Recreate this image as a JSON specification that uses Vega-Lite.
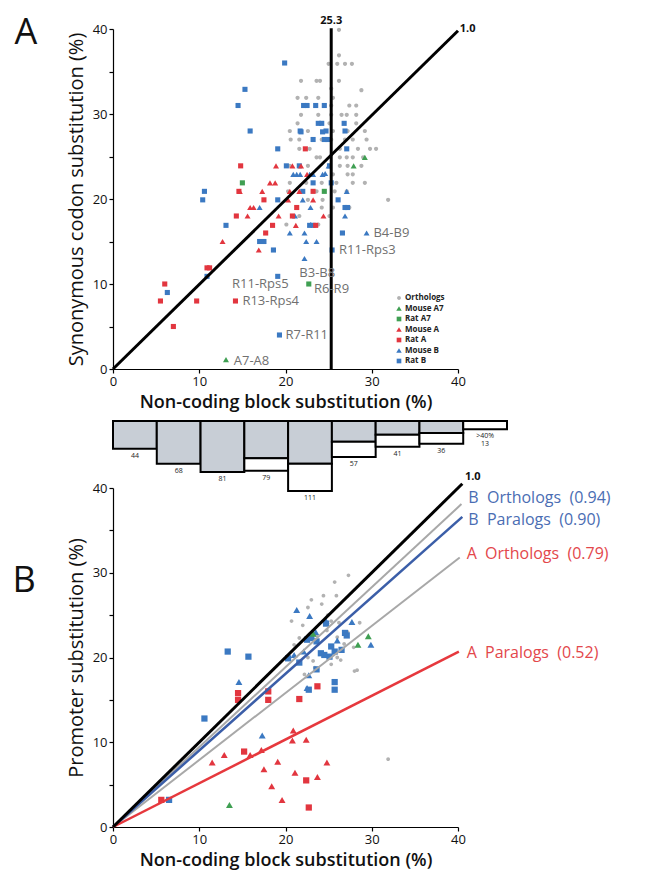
{
"$schema": "https://vega.github.io/schema/vega-lite/v6.json",
"padding": {"left": 12, "top": 15, "right": 0, "bottom": 2},
"background": "#ffffff",
"config": {"font": "Open Sans", "view": {"stroke": null},
  "axis": {"domainColor": "#000", "tickColor": "#000", "labelColor": "#111", "titleColor": "#111", "grid": false, "domainWidth": 1.2, "tickWidth": 1.2, "tickSize": 4, "labelFontSize": 13, "labelFlush": false, "labelPadding": 2}},
"datasets": {
 "a": [
  {"g":"Orthologs","x":26.2,"y":39.9},{"g":"Orthologs","x":26.2,"y":36.9},{"g":"Orthologs","x":25.0,"y":35.9},{"g":"Orthologs","x":26.0,"y":35.9},{"g":"Orthologs","x":26.9,"y":35.9},{"g":"Orthologs","x":27.7,"y":35.9},{"g":"Orthologs","x":21.8,"y":33.9},{"g":"Orthologs","x":23.6,"y":33.9},{"g":"Orthologs","x":24.0,"y":33.9},{"g":"Orthologs","x":26.2,"y":33.9},{"g":"Orthologs","x":28.8,"y":32.8},{"g":"Orthologs","x":21.4,"y":31.9},{"g":"Orthologs","x":22.4,"y":31.9},{"g":"Orthologs","x":23.8,"y":31.9},{"g":"Orthologs","x":25.5,"y":31.9},{"g":"Orthologs","x":27.4,"y":31.0},{"g":"Orthologs","x":28.2,"y":31.0},{"g":"Orthologs","x":25.3,"y":31.0},{"g":"Orthologs","x":21.8,"y":29.9},{"g":"Orthologs","x":23.8,"y":29.9},{"g":"Orthologs","x":26.5,"y":29.9},{"g":"Orthologs","x":27.1,"y":29.9},{"g":"Orthologs","x":28.2,"y":29.9},{"g":"Orthologs","x":25.3,"y":29.9},{"g":"Orthologs","x":21.4,"y":28.9},{"g":"Orthologs","x":25.1,"y":28.9},{"g":"Orthologs","x":28.2,"y":28.9},{"g":"Orthologs","x":20.5,"y":28.0},{"g":"Orthologs","x":22.6,"y":28.0},{"g":"Orthologs","x":25.5,"y":28.0},{"g":"Orthologs","x":27.2,"y":28.0},{"g":"Orthologs","x":29.2,"y":28.0},{"g":"Orthologs","x":20.6,"y":27.0},{"g":"Orthologs","x":21.6,"y":27.0},{"g":"Orthologs","x":24.2,"y":27.0},{"g":"Orthologs","x":26.9,"y":27.0},{"g":"Orthologs","x":27.8,"y":27.0},{"g":"Orthologs","x":29.4,"y":27.0},{"g":"Orthologs","x":21.6,"y":25.9},{"g":"Orthologs","x":22.8,"y":25.9},{"g":"Orthologs","x":26.3,"y":25.9},{"g":"Orthologs","x":28.4,"y":25.9},{"g":"Orthologs","x":29.8,"y":25.9},{"g":"Orthologs","x":30.5,"y":25.9},{"g":"Orthologs","x":23.6,"y":24.9},{"g":"Orthologs","x":24.0,"y":24.9},{"g":"Orthologs","x":27.1,"y":24.9},{"g":"Orthologs","x":27.8,"y":24.9},{"g":"Orthologs","x":29.0,"y":24.9},{"g":"Orthologs","x":26.3,"y":24.9},{"g":"Orthologs","x":20.5,"y":23.9},{"g":"Orthologs","x":22.6,"y":23.9},{"g":"Orthologs","x":26.3,"y":23.9},{"g":"Orthologs","x":27.2,"y":23.9},{"g":"Orthologs","x":28.8,"y":23.9},{"g":"Orthologs","x":25.5,"y":22.9},{"g":"Orthologs","x":27.2,"y":22.9},{"g":"Orthologs","x":27.8,"y":22.9},{"g":"Orthologs","x":20.5,"y":21.9},{"g":"Orthologs","x":22.4,"y":21.9},{"g":"Orthologs","x":24.2,"y":21.9},{"g":"Orthologs","x":25.9,"y":21.9},{"g":"Orthologs","x":27.8,"y":21.9},{"g":"Orthologs","x":29.2,"y":21.9},{"g":"Orthologs","x":20.3,"y":20.9},{"g":"Orthologs","x":23.6,"y":20.9},{"g":"Orthologs","x":25.7,"y":20.9},{"g":"Orthologs","x":27.1,"y":20.9},{"g":"Orthologs","x":31.9,"y":19.9},{"g":"Orthologs","x":22.6,"y":19.9},{"g":"Orthologs","x":24.3,"y":19.9},{"g":"Orthologs","x":24.2,"y":19.0},{"g":"Orthologs","x":25.5,"y":19.0},{"g":"Orthologs","x":27.4,"y":19.0},{"g":"Orthologs","x":20.1,"y":17.0},{"g":"Orthologs","x":23.8,"y":17.0},{"g":"Orthologs","x":21.6,"y":18.0},{"g":"Orthologs","x":25.1,"y":18.0},{"g":"Orthologs","x":25.3,"y":33.0},{"g":"Orthologs","x":25.3,"y":27.0},
  {"g":"Rat B","x":19.9,"y":36.0},{"g":"Rat B","x":15.3,"y":32.9},{"g":"Rat B","x":14.5,"y":31.0},{"g":"Rat B","x":15.9,"y":28.0},{"g":"Rat B","x":19.1,"y":25.9},{"g":"Rat B","x":10.6,"y":20.9},{"g":"Rat B","x":10.4,"y":19.9},{"g":"Rat B","x":13.1,"y":16.9},{"g":"Rat B","x":17.0,"y":15.0},{"g":"Rat B","x":17.5,"y":15.0},{"g":"Rat B","x":18.6,"y":14.0},{"g":"Rat B","x":10.9,"y":10.9},{"g":"Rat B","x":6.3,"y":9.0},{"g":"Rat B","x":19.1,"y":10.9},{"g":"Rat B","x":19.3,"y":4.0},{"g":"Rat B","x":25.4,"y":14.0},{"g":"Rat B","x":22.1,"y":31.0},{"g":"Rat B","x":22.5,"y":31.0},{"g":"Rat B","x":23.5,"y":31.0},{"g":"Rat B","x":24.5,"y":31.0},{"g":"Rat B","x":21.7,"y":28.0},{"g":"Rat B","x":23.8,"y":28.9},{"g":"Rat B","x":24.2,"y":28.9},{"g":"Rat B","x":24.7,"y":28.0},{"g":"Rat B","x":24.5,"y":27.0},{"g":"Rat B","x":24.9,"y":27.0},{"g":"Rat B","x":23.2,"y":27.0},{"g":"Rat B","x":26.8,"y":28.9},{"g":"Rat B","x":26.9,"y":28.0},{"g":"Rat B","x":27.1,"y":25.9},{"g":"Rat B","x":20.1,"y":23.9},{"g":"Rat B","x":21.6,"y":23.9},{"g":"Rat B","x":23.2,"y":21.9},{"g":"Rat B","x":25.3,"y":21.9},{"g":"Rat B","x":26.1,"y":19.9},{"g":"Rat B","x":26.9,"y":19.0},{"g":"Rat B","x":27.2,"y":19.0},{"g":"Rat B","x":26.6,"y":16.0},{"g":"Rat B","x":22.0,"y":20.9},{"g":"Rat B","x":25.1,"y":23.9},{"g":"Rat B","x":23.2,"y":16.9},{"g":"Rat B","x":22.8,"y":16.9},{"g":"Rat B","x":19.1,"y":19.9},{"g":"Rat B","x":24.3,"y":27.9},{"g":"Rat B","x":21.8,"y":27.9},
  {"g":"Mouse B","x":20.9,"y":22.9},{"g":"Mouse B","x":21.3,"y":22.9},{"g":"Mouse B","x":21.7,"y":22.9},{"g":"Mouse B","x":22.8,"y":22.9},{"g":"Mouse B","x":23.2,"y":22.9},{"g":"Mouse B","x":24.3,"y":22.9},{"g":"Mouse B","x":17.0,"y":19.0},{"g":"Mouse B","x":22.0,"y":19.9},{"g":"Mouse B","x":22.9,"y":19.0},{"g":"Mouse B","x":27.1,"y":20.9},{"g":"Mouse B","x":26.9,"y":18.0},{"g":"Mouse B","x":20.5,"y":16.0},{"g":"Mouse B","x":22.2,"y":16.0},{"g":"Mouse B","x":22.4,"y":15.0},{"g":"Mouse B","x":23.6,"y":15.0},{"g":"Mouse B","x":22.2,"y":13.0},{"g":"Mouse B","x":29.4,"y":16.0},{"g":"Mouse B","x":22.9,"y":17.0},{"g":"Mouse B","x":21.1,"y":18.0},{"g":"Mouse B","x":25.0,"y":23.9},{"g":"Mouse B","x":24.6,"y":23.0},
  {"g":"Mouse A","x":18.9,"y":23.9},{"g":"Mouse A","x":20.8,"y":23.9},{"g":"Mouse A","x":21.8,"y":23.9},{"g":"Mouse A","x":18.2,"y":21.9},{"g":"Mouse A","x":18.8,"y":21.9},{"g":"Mouse A","x":14.7,"y":20.9},{"g":"Mouse A","x":17.3,"y":20.9},{"g":"Mouse A","x":20.5,"y":20.9},{"g":"Mouse A","x":21.6,"y":20.9},{"g":"Mouse A","x":23.2,"y":19.9},{"g":"Mouse A","x":15.9,"y":19.0},{"g":"Mouse A","x":16.3,"y":19.0},{"g":"Mouse A","x":15.6,"y":18.0},{"g":"Mouse A","x":19.2,"y":18.0},{"g":"Mouse A","x":24.4,"y":18.0},{"g":"Mouse A","x":21.2,"y":16.9},{"g":"Mouse A","x":12.7,"y":15.0},{"g":"Mouse A","x":16.9,"y":14.0},{"g":"Mouse A","x":22.5,"y":22.9},{"g":"Mouse A","x":20.3,"y":19.9},
  {"g":"Rat A","x":14.8,"y":23.9},{"g":"Rat A","x":22.3,"y":25.9},{"g":"Rat A","x":14.3,"y":18.0},{"g":"Rat A","x":17.5,"y":19.9},{"g":"Rat A","x":18.5,"y":16.9},{"g":"Rat A","x":17.7,"y":16.0},{"g":"Rat A","x":20.8,"y":18.0},{"g":"Rat A","x":23.5,"y":16.9},{"g":"Rat A","x":23.2,"y":20.9},{"g":"Rat A","x":21.3,"y":19.0},{"g":"Rat A","x":10.9,"y":11.9},{"g":"Rat A","x":11.2,"y":11.9},{"g":"Rat A","x":6.0,"y":10.0},{"g":"Rat A","x":5.5,"y":8.0},{"g":"Rat A","x":9.7,"y":8.0},{"g":"Rat A","x":7.0,"y":5.0},{"g":"Rat A","x":14.2,"y":8.0},{"g":"Rat A","x":14.6,"y":20.9},
  {"g":"Mouse A7","x":29.2,"y":24.9},{"g":"Mouse A7","x":27.9,"y":23.9},{"g":"Mouse A7","x":13.1,"y":1.1},
  {"g":"Rat A7","x":15.0,"y":21.9},{"g":"Rat A7","x":24.5,"y":20.9},{"g":"Rat A7","x":22.7,"y":10.0}
 ],
 "b": [
  {"g":"Orthologs","x":27.3,"y":29.7},{"g":"Orthologs","x":25.7,"y":28.9},{"g":"Orthologs","x":24.4,"y":27.3},{"g":"Orthologs","x":25.9,"y":27.3},{"g":"Orthologs","x":24.2,"y":26.3},{"g":"Orthologs","x":22.6,"y":25.9},{"g":"Orthologs","x":20.7,"y":24.3},{"g":"Orthologs","x":25.3,"y":24.3},{"g":"Orthologs","x":26.2,"y":24.1},{"g":"Orthologs","x":28.6,"y":24.1},{"g":"Orthologs","x":21.6,"y":22.3},{"g":"Orthologs","x":23.6,"y":22.6},{"g":"Orthologs","x":26.0,"y":22.4},{"g":"Orthologs","x":27.9,"y":21.2},{"g":"Orthologs","x":24.4,"y":20.4},{"g":"Orthologs","x":26.0,"y":20.0},{"g":"Orthologs","x":22.6,"y":20.0},{"g":"Orthologs","x":23.2,"y":19.6},{"g":"Orthologs","x":28.0,"y":18.4},{"g":"Orthologs","x":26.4,"y":19.7},{"g":"Orthologs","x":25.3,"y":19.2},{"g":"Orthologs","x":23.4,"y":18.8},{"g":"Orthologs","x":28.3,"y":18.5},{"g":"Orthologs","x":24.8,"y":23.2},{"g":"Orthologs","x":22.0,"y":23.8},{"g":"Orthologs","x":27.2,"y":23.0},{"g":"Orthologs","x":21.0,"y":21.5},{"g":"Orthologs","x":31.9,"y":8.0},{"g":"Orthologs","x":23.0,"y":26.8},{"g":"Orthologs","x":24.9,"y":25.0},{"g":"Orthologs","x":26.8,"y":21.6},{"g":"Orthologs","x":22.2,"y":18.0},
  {"g":"Rat B","x":13.3,"y":20.7},{"g":"Rat B","x":15.7,"y":20.1},{"g":"Rat B","x":10.6,"y":12.8},{"g":"Rat B","x":6.5,"y":3.2},{"g":"Rat B","x":26.9,"y":22.9},{"g":"Rat B","x":27.1,"y":22.6},{"g":"Rat B","x":24.7,"y":24.0},{"g":"Rat B","x":22.5,"y":22.1},{"g":"Rat B","x":23.0,"y":22.3},{"g":"Rat B","x":23.6,"y":21.9},{"g":"Rat B","x":25.1,"y":20.1},{"g":"Rat B","x":25.7,"y":20.7},{"g":"Rat B","x":26.5,"y":20.9},{"g":"Rat B","x":24.1,"y":20.5},{"g":"Rat B","x":25.7,"y":17.1},{"g":"Rat B","x":25.7,"y":16.2},{"g":"Rat B","x":21.6,"y":19.4},{"g":"Rat B","x":23.6,"y":18.6},{"g":"Rat B","x":22.7,"y":16.2},{"g":"Rat B","x":20.3,"y":19.9},{"g":"Rat B","x":24.5,"y":20.3},{"g":"Rat B","x":25.3,"y":21.3},
  {"g":"Mouse B","x":21.3,"y":25.6},{"g":"Mouse B","x":22.8,"y":24.9},{"g":"Mouse B","x":24.7,"y":24.3},{"g":"Mouse B","x":27.7,"y":24.2},{"g":"Mouse B","x":29.9,"y":21.5},{"g":"Mouse B","x":14.6,"y":17.1},{"g":"Mouse B","x":17.3,"y":10.8},{"g":"Mouse B","x":22.1,"y":20.7},{"g":"Mouse B","x":22.5,"y":16.4},{"g":"Mouse B","x":22.7,"y":17.9},{"g":"Mouse B","x":23.5,"y":23.0},{"g":"Mouse B","x":21.0,"y":20.3},{"g":"Mouse B","x":26.0,"y":22.0},
  {"g":"Rat A","x":14.5,"y":15.8},{"g":"Rat A","x":14.5,"y":15.0},{"g":"Rat A","x":18.0,"y":16.0},{"g":"Rat A","x":18.0,"y":15.0},{"g":"Rat A","x":23.7,"y":16.6},{"g":"Rat A","x":21.6,"y":15.1},{"g":"Rat A","x":15.2,"y":8.9},{"g":"Rat A","x":22.4,"y":5.5},{"g":"Rat A","x":22.7,"y":2.3},{"g":"Rat A","x":5.6,"y":3.2},
  {"g":"Mouse A","x":11.5,"y":7.6},{"g":"Mouse A","x":12.9,"y":8.5},{"g":"Mouse A","x":15.9,"y":8.5},{"g":"Mouse A","x":17.2,"y":9.1},{"g":"Mouse A","x":20.9,"y":11.4},{"g":"Mouse A","x":20.8,"y":10.2},{"g":"Mouse A","x":22.4,"y":10.3},{"g":"Mouse A","x":17.5,"y":6.8},{"g":"Mouse A","x":19.1,"y":7.7},{"g":"Mouse A","x":21.1,"y":6.4},{"g":"Mouse A","x":23.7,"y":5.9},{"g":"Mouse A","x":24.8,"y":7.6},{"g":"Mouse A","x":18.4,"y":4.8},{"g":"Mouse A","x":19.6,"y":3.2},
  {"g":"Mouse A7","x":13.5,"y":2.6},{"g":"Mouse A7","x":29.6,"y":22.5},{"g":"Mouse A7","x":28.4,"y":21.5},{"g":"Mouse A7","x":23.2,"y":22.8}
 ],
 "h": [
  {"b":1,"part":"gray","n":44},{"b":2,"part":"gray","n":68},{"b":3,"part":"gray","n":81},
  {"b":4,"part":"gray","n":59},{"b":4,"part":"white","n":20},
  {"b":5,"part":"gray","n":68},{"b":5,"part":"white","n":43},
  {"b":6,"part":"gray","n":33},{"b":6,"part":"white","n":24},
  {"b":7,"part":"gray","n":22},{"b":7,"part":"white","n":19},
  {"b":8,"part":"gray","n":19},{"b":8,"part":"white","n":17},
  {"b":9,"part":"white","n":13}
 ],
 "hl": [
  {"b":1,"total":44,"lab":"44"},{"b":2,"total":68,"lab":"68"},{"b":3,"total":81,"lab":"81"},{"b":4,"total":79,"lab":"79"},{"b":5,"total":111,"lab":"111"},
  {"b":6,"total":57,"lab":"57"},{"b":7,"total":41,"lab":"41"},{"b":8,"total":36,"lab":"36"},{"b":9,"total":13,"lab":">40%\n13"}
 ]
},
"bounds": "flush",
"spacing": 52,
"resolve": {"scale": {"color": "independent", "shape": "independent"}},
"vconcat": [
 {
  "width": 345, "height": 340,
  "encoding": {
   "x": {"field": "x", "type": "quantitative", "scale": {"domain": [0, 40], "nice": false},
         "axis": {"values": [0, 10, 20, 30, 40], "title": "Non-coding block substitution (%)", "titleFontSize": 18, "titleFontWeight": 600, "titlePadding": 5}},
   "y": {"field": "y", "type": "quantitative", "scale": {"domain": [0, 40], "nice": false},
         "axis": {"values": [0, 5, 10, 15, 20, 25, 30, 35, 40], "labelExpr": "datum.value % 10 === 0 ? datum.label : ''", "title": "Synonymous codon substitution (%)", "titleFontSize": 20, "titleFontWeight": "normal", "titlePadding": 6}}
  },
  "layer": [
   {"data": {"name": "a"}, "mark": {"type": "point", "filled": true, "opacity": 1, "size": 36},
    "encoding": {
     "color": {"field": "g", "type": "nominal", "scale": {"domain": ["Orthologs","Mouse A7","Rat A7","Mouse A","Rat A","Mouse B","Rat B"], "range": ["#b2b2b2","#3f9f52","#3f9f52","#e2363f","#e2363f","#3b79c2","#3b79c2"]},
       "legend": {"title": null, "orient": "none", "legendX": 282, "legendY": 265, "labelFontSize": 8, "labelFontWeight": "bold", "labelColor": "#222", "rowPadding": 2.5, "labelOffset": 2, "padding": 0, "symbolSize": 30}},
     "shape": {"field": "g", "type": "nominal", "scale": {"domain": ["Orthologs","Mouse A7","Rat A7","Mouse A","Rat A","Mouse B","Rat B"], "range": ["M-0.7,0A0.7,0.7 0 1,0 0.7,0A0.7,0.7 0 1,0 -0.7,0Z","triangle-up","M-0.85,-0.85L0.85,-0.85L0.85,0.85L-0.85,0.85Z","triangle-up","M-0.85,-0.85L0.85,-0.85L0.85,0.85L-0.85,0.85Z","triangle-up","M-0.85,-0.85L0.85,-0.85L0.85,0.85L-0.85,0.85Z"]},
       "legend": {"title": null, "orient": "none", "legendX": 282, "legendY": 265, "labelFontSize": 8, "labelFontWeight": "bold", "labelColor": "#222", "rowPadding": 2.5, "labelOffset": 2, "padding": 0, "symbolSize": 30}}
    }},
   {"data": {"values": [{"x": 0, "y": 0}, {"x": 40, "y": 39.8}]}, "mark": {"type": "line", "color": "#000", "strokeWidth": 3}, "encoding": {}},
   {"data": {"values": [{"x": 25.3, "y": 0, "y2": 40.1}]}, "mark": {"type": "rule", "color": "#000", "strokeWidth": 3}, "encoding": {"y2": {"field": "y2"}}},
   {"data": {"values": [{"x": 25.3, "y": 40.9, "t": "25.3"}]}, "mark": {"type": "text", "fontSize": 11, "fontWeight": "bold", "color": "#111", "align": "center", "baseline": "middle"}, "encoding": {"text": {"field": "t"}}},
   {"data": {"values": [{"x": 40.2, "y": 40.0, "t": "1.0"}]}, "mark": {"type": "text", "fontSize": 11, "fontWeight": "bold", "color": "#111", "align": "left", "baseline": "middle"}, "encoding": {"text": {"field": "t"}}},
   {"data": {"values": [
     {"x": 30.2, "y": 16.0, "t": "B4-B9"}, {"x": 26.2, "y": 14.0, "t": "R11-Rps3"}, {"x": 21.6, "y": 11.3, "t": "B3-B8"}, {"x": 23.3, "y": 9.4, "t": "R6-R9"},
     {"x": 13.8, "y": 10.0, "t": "R11-Rps5"}, {"x": 15.0, "y": 8.0, "t": "R13-Rps4"}, {"x": 20.0, "y": 4.0, "t": "R7-R11"}, {"x": 14.0, "y": 1.0, "t": "A7-A8"}]},
    "mark": {"type": "text", "fontSize": 13, "color": "#707070", "align": "left", "baseline": "middle"}, "encoding": {"text": {"field": "t"}}},
   {"data": {"values": [{"x": -10.1, "y": 39.5, "t": "A"}]}, "mark": {"type": "text", "fontSize": 36, "color": "#111", "align": "center", "baseline": "middle"}, "encoding": {"text": {"field": "t"}}}
  ]
 },
 {
  "width": 394, "height": 15,
  "layer": [
   {"data": {"name": "h"},
    "mark": {"type": "bar", "stroke": "#000", "strokeWidth": 2},
    "encoding": {"x": {"field": "b", "type": "ordinal", "scale": {"paddingInner": 0, "paddingOuter": 0}, "axis": null},
                 "y": {"field": "n", "type": "quantitative", "stack": "zero", "scale": {"domain": [0, 23.8], "reverse": true, "nice": false}, "axis": null},
                 "color": {"field": "part", "type": "nominal", "scale": {"domain": ["gray", "white"], "range": ["#c8ced6", "#ffffff"]}, "legend": null},
                 "order": {"field": "part", "type": "ordinal"}}},
   {"data": {"name": "hl"},
    "mark": {"type": "text", "fontSize": 7, "color": "#222", "baseline": "top", "align": "center", "dy": 3, "lineBreak": "\n", "lineHeight": 8},
    "encoding": {"x": {"field": "b", "type": "ordinal", "scale": {"paddingInner": 0, "paddingOuter": 0}, "axis": null},
                 "y": {"field": "total", "type": "quantitative", "scale": {"domain": [0, 23.8], "reverse": true, "nice": false}, "axis": null}, "text": {"field": "lab"}}}
  ]
 },
 {
  "width": 345, "height": 339,
  "encoding": {
   "x": {"field": "x", "type": "quantitative", "scale": {"domain": [0, 40], "nice": false},
         "axis": {"values": [0, 10, 20, 30, 40], "title": "Non-coding block substitution (%)", "titleFontSize": 18, "titleFontWeight": 600, "titlePadding": 5}},
   "y": {"field": "y", "type": "quantitative", "scale": {"domain": [0, 40], "nice": false},
         "axis": {"values": [0, 5, 10, 15, 20, 25, 30, 35, 40], "labelExpr": "datum.value % 10 === 0 ? datum.label : ''", "title": "Promoter substitution (%)", "titleFontSize": 20, "titleFontWeight": "normal", "titlePadding": 6}}
  },
  "layer": [
   {"data": {"name": "b"}, "mark": {"type": "point", "filled": true, "opacity": 1, "size": 48},
    "encoding": {
     "color": {"field": "g", "type": "nominal", "scale": {"domain": ["Orthologs","Mouse A7","Rat A7","Mouse A","Rat A","Mouse B","Rat B"], "range": ["#b2b2b2","#3f9f52","#3f9f52","#e2363f","#e2363f","#3b79c2","#3b79c2"]}, "legend": null},
     "shape": {"field": "g", "type": "nominal", "scale": {"domain": ["Orthologs","Mouse A7","Rat A7","Mouse A","Rat A","Mouse B","Rat B"], "range": ["M-0.55,0A0.55,0.55 0 1,0 0.55,0A0.55,0.55 0 1,0 -0.55,0Z","triangle-up","M-0.9,-0.9L0.9,-0.9L0.9,0.9L-0.9,0.9Z","triangle-up","M-0.9,-0.9L0.9,-0.9L0.9,0.9L-0.9,0.9Z","triangle-up","M-0.9,-0.9L0.9,-0.9L0.9,0.9L-0.9,0.9Z"]}, "legend": null}
    }},
   {"data": {"values": [{"x": 0, "y": 0}, {"x": 40.2, "y": 31.8}]}, "mark": {"type": "line", "color": "#a8a8a8", "strokeWidth": 2}, "encoding": {}},
   {"data": {"values": [{"x": 0, "y": 0}, {"x": 40.4, "y": 38.1}]}, "mark": {"type": "line", "color": "#a8a8a8", "strokeWidth": 2}, "encoding": {}},
   {"data": {"values": [{"x": 0, "y": 0}, {"x": 40.5, "y": 36.6}]}, "mark": {"type": "line", "color": "#3b5ea8", "strokeWidth": 2.5}, "encoding": {}},
   {"data": {"values": [{"x": 0, "y": 0}, {"x": 40.1, "y": 20.7}]}, "mark": {"type": "line", "color": "#e6383d", "strokeWidth": 2.5}, "encoding": {}},
   {"data": {"values": [{"x": 0, "y": 0}, {"x": 40.5, "y": 40.5}]}, "mark": {"type": "line", "color": "#000", "strokeWidth": 3}, "encoding": {}},
   {"data": {"values": [{"x": 40.8, "y": 41.3, "t": "1.0"}]}, "mark": {"type": "text", "fontSize": 11, "fontWeight": "bold", "color": "#111", "align": "left", "baseline": "middle"}, "encoding": {"text": {"field": "t"}}},
   {"data": {"values": [{"x": 41.2, "y": 38.8, "t": "B\u00a0 Orthologs\u00a0 (0.94)"}, {"x": 41.2, "y": 36.2, "t": "B\u00a0 Paralogs\u00a0 (0.90)"}]},
    "mark": {"type": "text", "fontSize": 16, "color": "#4a6db3", "align": "left", "baseline": "middle"}, "encoding": {"text": {"field": "t"}}},
   {"data": {"values": [{"x": 41.0, "y": 32.2, "t": "A\u00a0 Orthologs\u00a0 (0.79)"}, {"x": 41.0, "y": 20.5, "t": "A\u00a0 Paralogs\u00a0 (0.52)"}]},
    "mark": {"type": "text", "fontSize": 16, "color": "#e3474b", "align": "left", "baseline": "middle"}, "encoding": {"text": {"field": "t"}}},
   {"data": {"values": [{"x": -10.3, "y": 29.0, "t": "B"}]}, "mark": {"type": "text", "fontSize": 36, "color": "#111", "align": "center", "baseline": "middle"}, "encoding": {"text": {"field": "t"}}}
  ]
 }
]
}
